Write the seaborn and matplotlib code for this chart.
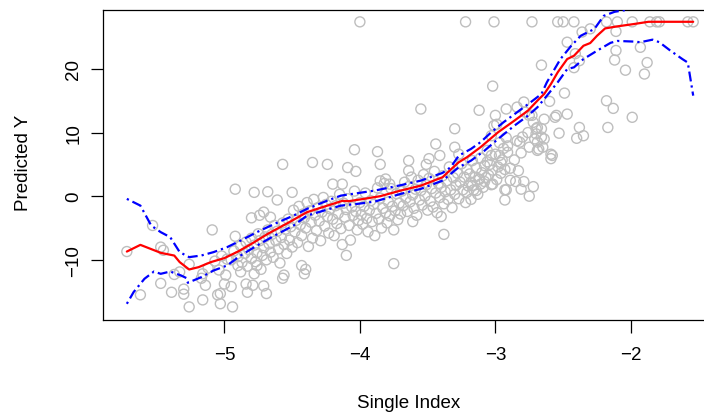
import matplotlib
matplotlib.use("Agg")
import numpy as np
import pandas as pd
import matplotlib.pyplot as plt
import seaborn as sns

# ── fitted link function (red) ─────────────────────────────────────────────────
fit_x = [-5.72, -5.62, -5.47, -5.37, -5.33, -5.26, -5.19, -5.10, -5.00, -4.90,
         -4.80, -4.68, -4.53, -4.39, -4.24, -4.13, -4.08, -3.97, -3.85, -3.70,
         -3.55, -3.39, -3.33, -3.27, -3.21, -3.11, -2.98, -2.86, -2.76, -2.69,
         -2.64, -2.59, -2.54, -2.47, -2.42, -2.35, -2.30, -2.25, -2.19, -2.10,
         -1.98, -1.87, -1.73, -1.54]
fit_y = [-8.70, -7.65, -8.90, -9.33, -10.36, -11.52, -11.15, -10.36, -9.73, -8.70,
         -7.49, -5.92, -4.19, -2.51, -1.48, -0.74, -0.78, -0.42, 0.00, 0.88,
         1.66, 2.98, 4.18, 5.34, 6.12, 7.69, 10.05, 11.87, 13.44, 15.01,
         16.06, 17.63, 19.47, 21.55, 22.07, 23.64, 24.07, 25.21, 26.37, 26.69,
         27.05, 27.41, 27.41, 27.41]

# ── pointwise band (blue) ──────────────────────────────────────────────────────
hi_x = [-5.72, -5.62, -5.54, -5.47, -5.40, -5.33, -5.26, -5.17, -5.08, -4.98,
        -4.88, -4.76, -4.63, -4.49, -4.39, -4.24, -4.14, -4.02, -3.89, -3.70,
        -3.55, -3.39, -3.33, -3.27, -3.18, -3.11, -3.03, -2.94, -2.84, -2.74,
        -2.66, -2.62, -2.57, -2.52, -2.44, -2.37, -2.32, -2.27, -2.20, -2.12,
        -2.04, -1.95]
hi_y = [-0.42, -1.48, -4.62, -5.65, -6.44, -8.79, -9.58, -9.32, -8.79, -8.01,
        -6.97, -5.65, -4.35, -3.05, -1.99, -0.69, 0.09, 0.47, 0.88, 1.72,
        2.45, 3.66, 4.55, 6.37, 7.43, 8.48, 10.05, 11.62, 13.19, 14.76,
        16.06, 17.90, 19.72, 21.55, 23.64, 25.21, 25.75, 26.26, 28.35, 28.98,
        29.25, 30.20]

lo_x = [-5.72, -5.67, -5.59, -5.52, -5.47, -5.40, -5.32, -5.28, -5.27, -5.17,
        -5.08, -4.98, -4.88, -4.76, -4.63, -4.49, -4.39, -4.24, -4.14, -4.02,
        -3.89, -3.70, -3.55, -3.39, -3.33, -3.27, -3.18, -3.08, -2.98, -2.86,
        -2.76, -2.69, -2.62, -2.54, -2.47, -2.42, -2.35, -2.25, -2.15, -2.10,
        -1.98, -1.93, -1.84, -1.79, -1.71, -1.62, -1.58, -1.56, -1.54]
lo_y = [-16.91, -15.07, -12.98, -11.84, -12.20, -11.84, -12.46, -12.87, -13.61, -12.72,
        -11.68, -10.89, -9.32, -7.76, -6.19, -4.62, -3.05, -2.10, -1.48, -1.21,
        -0.85, 0.36, 1.15, 2.45, 3.50, 4.55, 5.59, 7.16, 9.00, 11.08,
        12.65, 13.97, 15.79, 17.90, 19.98, 20.25, 21.55, 22.86, 24.10, 24.40,
        24.30, 24.20, 24.60, 24.20, 22.90, 21.55, 21.00, 18.40, 15.80]

# ── observed points (single index, predicted y) ────────────────────────────────
pts_left = [
    (-5.72, -8.7), (-5.62, -15.5), (-5.53, -4.6), (-5.47, -8.0), (-5.47, -13.7), (-5.45, -8.5),
    (-5.39, -15.1), (-5.37, -12.3), (-5.33, -11.9), (-5.30, -14.6), (-5.30, -15.4), (-5.26, -10.7),
    (-5.26, -17.4), (-5.16, -16.3), (-5.17, -12.9), (-5.14, -14.0), (-5.09, -5.3), (-5.05, -15.5),
    (-5.03, -15.3), (-5.03, -16.9), (-5.16, -12.2), (-5.12, -11.3), (-5.07, -10.2), (-5.04, -11.6),
    (-5.00, -13.8), (-4.99, -12.4), (-4.95, -14.2), (-4.94, -17.4), (-4.98, -9.9), (-5.02, -9.4),
]
pts_b = [
    (-4.92, 1.1), (-4.90, -10.9), (-4.92, -6.3), (-4.88, -11.9), (-4.84, -13.8), (-4.83, -15.1),
    (-4.79, -14.0), (-4.78, -12.2), (-4.76, -10.9), (-4.78, 0.6), (-4.80, -3.4), (-4.74, -3.0),
    (-4.71, -2.5), (-4.68, 0.7), (-4.71, -14.1), (-4.69, -15.3), (-4.66, -3.3), (-4.61, -0.6),
    (-4.57, 5.0), (-4.57, -12.9), (-4.56, -12.4),
    (-4.95, -10.0), (-4.93, -8.6), (-4.90, -9.5), (-4.88, -7.8), (-4.87, -10.4), (-4.85, -9.0),
    (-4.84, -7.2), (-4.83, -11.0), (-4.82, -8.4), (-4.80, -9.8), (-4.80, -6.6), (-4.78, -7.7),
    (-4.77, -10.3), (-4.76, -8.9), (-4.75, -5.9), (-4.74, -7.0), (-4.73, -11.5), (-4.72, -9.3),
    (-4.71, -8.1), (-4.70, -6.4), (-4.69, -10.0), (-4.68, -5.3), (-4.67, -7.5), (-4.66, -8.8),
    (-4.65, -6.0), (-4.64, -9.6), (-4.63, -4.6), (-4.62, -7.0), (-4.61, -5.5), (-4.60, -8.3),
    (-4.59, -10.5), (-4.58, -6.5), (-4.57, -4.2), (-4.56, -7.6), (-4.55, -5.2), (-4.54, -9.0),
    (-4.53, -3.6), (-4.52, -6.9), (-4.51, -4.8), (-4.50, -8.0),
]
pts_c = [
    (-4.50, 0.6), (-4.43, -10.9), (-4.41, -12.2), (-4.40, -11.5), (-4.35, 5.3), (-4.24, 5.0),
    (-4.20, 1.9), (-4.13, 1.9), (-4.09, 4.5), (-4.04, 7.3), (-4.03, 3.9), (-4.10, -9.3),
    (-4.49, -2.2), (-4.48, -5.6), (-4.47, -3.8), (-4.46, -7.3), (-4.45, -1.6), (-4.44, -4.5),
    (-4.43, -6.2), (-4.42, -2.8), (-4.41, -3.4), (-4.40, -5.0), (-4.39, -1.0), (-4.38, -7.9),
    (-4.37, -2.3), (-4.36, -4.1), (-4.35, -6.6), (-4.34, -0.5), (-4.33, -3.0), (-4.32, -5.4),
    (-4.31, -1.8), (-4.30, -3.9), (-4.29, -7.0), (-4.28, -2.5), (-4.27, -0.2), (-4.26, -4.7),
    (-4.25, -1.3), (-4.24, -3.2), (-4.23, -5.8), (-4.22, -2.0), (-4.21, -0.8), (-4.20, -3.6),
    (-4.19, -6.2), (-4.18, -1.5), (-4.17, -4.3), (-4.16, -2.7), (-4.15, 0.3), (-4.14, -5.1),
    (-4.13, -7.6), (-4.12, -1.1), (-4.11, -3.3), (-4.10, -2.1), (-4.09, -0.4), (-4.08, -4.6),
    (-4.07, -6.9), (-4.06, -1.7), (-4.05, -3.0), (-4.04, 0.8), (-4.03, -2.4), (-4.02, -5.3),
    (-4.01, -3.8), (-4.00, -1.0),
]
pts_d = [
    (-3.87, 7.0), (-3.85, 5.0), (-3.75, -10.6), (-3.85, 2.4), (-3.81, 2.7), (-3.78, 1.9),
    (-3.99, -2.9), (-3.98, -4.4), (-3.97, -1.6), (-3.96, 0.5), (-3.95, -3.5), (-3.94, -5.6),
    (-3.93, -2.2), (-3.92, -0.7), (-3.91, -4.0), (-3.90, -1.3), (-3.89, -6.2), (-3.88, -2.7),
    (-3.87, 1.3), (-3.86, -3.6), (-3.85, -0.3), (-3.84, -5.0), (-3.83, -1.9), (-3.82, 2.0),
    (-3.81, -2.6), (-3.80, -4.2), (-3.79, -0.9), (-3.78, -3.1), (-3.77, 1.2), (-3.76, -1.6),
    (-3.75, -5.3), (-3.74, -2.3), (-3.73, 0.4), (-3.72, -3.7), (-3.71, -1.1), (-3.70, -2.8),
]
pts_e = [
    (-3.64, 5.6), (-3.64, 4.0), (-3.61, -4.0), (-3.55, 13.7), (-3.44, 8.2), (-3.40, -3.2),
    (-3.38, -6.0), (-3.30, 10.6), (-3.30, 7.7), (-3.51, 5.0), (-3.49, 5.9), (-3.41, 6.4),
    (-3.27, 6.6),
    (-3.69, 0.8), (-3.68, -1.5), (-3.67, 2.2), (-3.66, -0.3), (-3.65, -2.4), (-3.64, 1.5),
    (-3.63, -0.9), (-3.62, 3.0), (-3.61, 0.2), (-3.60, -1.9), (-3.59, 1.1), (-3.58, -3.0),
    (-3.57, 2.5), (-3.56, -0.6), (-3.55, 0.9), (-3.54, -1.4), (-3.53, 3.4), (-3.52, 0.0),
    (-3.51, 1.8), (-3.50, -2.2), (-3.49, 2.8), (-3.48, -0.8), (-3.47, 1.2), (-3.46, -1.7),
    (-3.45, 3.9), (-3.44, 0.5), (-3.43, -2.6), (-3.42, 2.0), (-3.41, -0.2), (-3.40, 1.4),
    (-3.39, 3.2), (-3.38, -1.2), (-3.37, 0.7), (-3.36, 2.4), (-3.35, -0.5), (-3.34, 4.6),
    (-3.33, 1.0), (-3.32, -1.8), (-3.31, 2.9), (-3.30, 0.3), (-3.29, 1.7), (-3.28, 3.6),
    (-3.27, -0.4), (-3.26, 2.2), (-3.25, 5.1), (-3.24, 1.0), (-3.23, 3.0), (-3.22, -1.0),
    (-3.21, 4.2), (-3.20, 1.6),
]
pts_f = [
    (-3.12, 13.5), (-3.02, 17.3), (-3.00, 12.7), (-3.01, 11.1), (-2.99, 11.3), (-2.92, 13.7),
    (-3.03, 9.5), (-3.12, 2.7), (-3.08, 2.3), (-3.11, 1.9), (-3.02, 1.9), (-3.17, 1.7),
    (-3.14, 0.9), (-3.18, -0.5), (-3.21, 0.6), (-3.06, 5.4), (-3.03, 6.4), (-2.97, 6.4),
    (-2.96, 5.3), (-2.91, 7.9), (-2.91, 6.9),
    (-3.19, 3.5), (-3.18, 2.2), (-3.17, 5.6), (-3.16, 1.0), (-3.15, 3.0), (-3.14, 4.4),
    (-3.13, 0.3), (-3.12, 2.6), (-3.11, 6.0), (-3.10, 3.7), (-3.09, 1.4), (-3.08, 4.8),
    (-3.07, 2.9), (-3.06, 7.2), (-3.05, 3.3), (-3.04, 5.0), (-3.03, 1.8), (-3.02, 4.1),
    (-3.00, 6.6), (-2.99, 2.6), (-2.98, 4.6), (-2.97, 8.4), (-2.96, 3.6), (-2.95, 5.7),
    (-2.94, 7.5), (-2.93, 4.2), (-2.92, 9.2),
]
pts_g = [
    (-2.84, 14.0), (-2.79, 14.8), (-2.70, 10.6), (-2.69, 10.8), (-2.66, 10.6), (-2.71, 9.0),
    (-2.69, 8.5), (-2.66, 9.3), (-2.64, 9.0), (-2.68, 7.4), (-2.65, 7.7), (-2.69, 7.2),
    (-2.59, 6.6), (-2.58, 6.4), (-2.59, 5.9), (-2.75, 7.7), (-2.80, 9.3), (-2.82, 8.5),
    (-2.84, 8.7), (-2.75, 12.7), (-2.73, 12.7), (-2.78, 13.2), (-2.64, 12.1), (-2.56, 12.4),
    (-2.55, 12.7), (-2.60, 14.9), (-2.47, 12.9), (-2.53, 9.9), (-2.40, 9.1), (-2.35, 9.5),
    (-2.38, 10.8), (-2.93, -0.6), (-2.92, 1.0), (-2.89, 2.5), (-2.85, 2.3), (-2.81, 1.1),
    (-2.79, 2.3), (-2.75, 0.0), (-2.72, 1.5), (-2.89, 4.4), (-2.83, 4.0), (-2.93, 1.0),
    (-2.86, 5.7), (-2.81, 6.8), (-2.76, 10.0), (-2.72, 11.6), (-2.70, 9.8),
]
pts_h = [
    (-2.47, 24.2), (-2.41, 22.4), (-2.38, 21.3), (-2.42, 20.2), (-2.36, 25.8), (-2.30, 26.3),
    (-2.66, 20.6), (-2.49, 16.2), (-2.18, 15.0), (-2.13, 13.8), (-1.99, 12.4), (-2.17, 10.8),
    (-2.11, 25.9), (-2.11, 22.9), (-2.12, 21.4), (-2.04, 19.8), (-1.93, 23.4), (-1.88, 21.0),
    (-1.90, 19.2),
]
pts_top = [
    (-4.00, 27.4), (-3.22, 27.4), (-3.01, 27.4), (-2.73, 27.4), (-2.54, 27.4), (-2.50, 27.4),
    (-2.42, 27.4), (-2.18, 27.4), (-2.10, 27.4), (-1.99, 27.4), (-1.86, 27.4), (-1.81, 27.4),
    (-1.79, 27.4), (-1.58, 27.4), (-1.54, 27.4),
]

GREY = "#bebebe"
FS = 13.5

sns.set_theme(style="ticks", rc={"axes.edgecolor": "black", "text.color": "black",
                                 "axes.labelcolor": "black", "xtick.color": "black",
                                 "ytick.color": "black"})
plt.rcParams["font.family"] = ["Liberation Sans", "DejaVu Sans"]

fig = plt.figure(figsize=(7.04, 4.14), dpi=100)
ax = fig.add_axes([0.1463, 0.2246, 0.8757, 0.7488])

pts = pd.DataFrame(pts_left + pts_b + pts_c + pts_d + pts_e + pts_f + pts_g + pts_h + pts_top,
                   columns=["index", "pred"])
sns.scatterplot(data=pts, x="index", y="pred", ax=ax, marker="o", s=52,
                facecolors="none", edgecolor=GREY, linewidth=1.0, zorder=1)

sns.lineplot(x=fit_x, y=fit_y, ax=ax, sort=False, estimator=None,
             color="red", lw=1.6, zorder=3)
for bx, by in [(hi_x, hi_y), (lo_x, lo_y)]:
    sns.lineplot(x=bx, y=by, ax=ax, sort=False, estimator=None, color="blue",
                 lw=1.6, linestyle=(0, (1, 1.8, 4.5, 1.8)), zorder=4)

ax.set_xlim(-5.896, -1.346)
ax.set_ylim(-19.46, 29.26)
ax.set_xticks([-5, -4, -3, -2])
ax.set_yticks([-10, 0, 10, 20])
for sp in ax.spines.values():
    sp.set_linewidth(0.9)
    sp.set_color("black")
ax.tick_params(length=9, width=0.9, labelsize=FS, direction="out")
ax.tick_params(axis="x", pad=10)
ax.tick_params(axis="y", pad=6, labelrotation=90)
for lab in ax.get_yticklabels():
    lab.set_va("center")

ax.set_xlabel("Single Index", fontsize=FS)
ax.set_ylabel("Predicted Y", fontsize=FS)
ax.xaxis.set_label_coords(0.4957, -0.2377)
ax.yaxis.set_label_coords(-0.1145, 0.51)

fig.savefig("out.png", dpi=100)
